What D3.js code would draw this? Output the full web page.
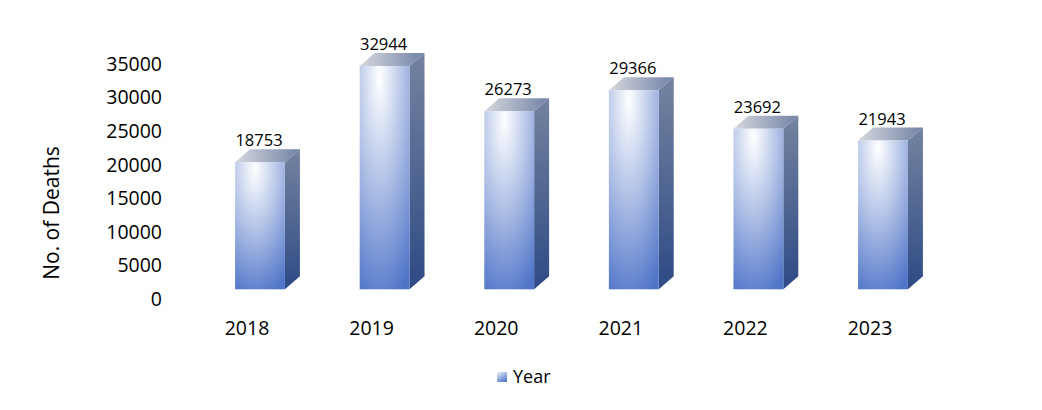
<!DOCTYPE html>
<html>
<head>
<meta charset="utf-8">
<script src="https://cdn.jsdelivr.net/npm/d3@7"></script>
<style>
  body { margin: 0; background: #fff; }
  text { font-family: "Open Sans", Lato, sans-serif; fill: #000; }
</style>
</head>
<body>
<div id="chart"></div>
<script>
var years = ["2018", "2019", "2020", "2021", "2022", "2023"];
var deaths = [18753, 32944, 26273, 29366, 23692, 21943];
var yTicks = [0, 5000, 10000, 15000, 20000, 25000, 30000, 35000];
var seriesName = "Year";
var yTitle = "No. of Deaths";

var width = 1042,
  height = 410;
var depthX = 15,
  depthY = 13;

var svg = d3
  .select("#chart")
  .append("svg")
  .attr("width", width)
  .attr("height", height);

var defs = svg.append("defs");

var frontGrad = defs
  .append("radialGradient")
  .attr("id", "front")
  .attr("cx", 0.4)
  .attr("cy", 0.05)
  .attr("fx", 0.4)
  .attr("fy", 0.05)
  .attr("r", 1.05);
frontGrad.append("stop").attr("offset", "0%").attr("stop-color", "#ffffff");
frontGrad.append("stop").attr("offset", "45%").attr("stop-color", "#b3c3e7");
frontGrad.append("stop").attr("offset", "100%").attr("stop-color", "#4f74c8");

var sideGrad = defs
  .append("linearGradient")
  .attr("id", "side")
  .attr("x1", 0)
  .attr("y1", 0)
  .attr("x2", 0)
  .attr("y2", 1);
sideGrad.append("stop").attr("offset", "0%").attr("stop-color", "#74839f");
sideGrad.append("stop").attr("offset", "100%").attr("stop-color", "#2e4a85");

var topGrad = defs
  .append("linearGradient")
  .attr("id", "topface")
  .attr("x1", 0)
  .attr("y1", 0)
  .attr("x2", 1)
  .attr("y2", 0);
topGrad.append("stop").attr("offset", "0%").attr("stop-color", "#d6d8dd");
topGrad.append("stop").attr("offset", "100%").attr("stop-color", "#7182a6");

var legendGrad = defs
  .append("linearGradient")
  .attr("id", "legend")
  .attr("x1", 0)
  .attr("y1", 0)
  .attr("x2", 0.6)
  .attr("y2", 1);
legendGrad.append("stop").attr("offset", "0%").attr("stop-color", "#eef2fb");
legendGrad.append("stop").attr("offset", "100%").attr("stop-color", "#5c7fcc");

var x = d3
  .scaleBand()
  .domain(years)
  .range([197.7, 945.3])
  .paddingInner(0.6)
  .paddingOuter(0.3);

// bar fronts sit on the front plane; tick labels on the back wall sit lower
var y = d3.scaleLinear().domain([0, 35000]).range([289.3, 52]);
var yAxisScale = d3.scaleLinear().domain([0, 35000]).range([298.5, 63.5]);

var axis = svg
  .append("g")
  .attr("transform", "translate(162,0)")
  .call(
    d3
      .axisLeft(yAxisScale)
      .tickValues(yTicks)
      .tickFormat(d3.format("d"))
      .tickSize(0)
      .tickPadding(0)
  );
axis.select(".domain").remove();
axis
  .selectAll("text")
  .style("font-size", "19.5px")
  .attr("dy", "0.35em");

svg
  .append("text")
  .attr("transform", "translate(52,213) rotate(-90)")
  .attr("text-anchor", "middle")
  .attr("dy", "0.35em")
  .style("font-size", "21px")
  .text(yTitle);

var bars = svg
  .selectAll("g.bar")
  .data(years.map((d, i) => ({ year: d, value: deaths[i] })))
  .enter()
  .append("g")
  .attr("class", "bar");

bars
  .append("path")
  .attr("fill", "url(#side)")
  .attr("d", (d) => {
    var x1 = x(d.year) + x.bandwidth(),
      y0 = y(0),
      y1 = y(d.value);
    return `M${x1},${y0}L${x1},${y1}L${x1 + depthX},${y1 - depthY}L${x1 + depthX},${y0 - depthY}Z`;
  });

bars
  .append("path")
  .attr("fill", "url(#topface)")
  .attr("d", (d) => {
    var x0 = x(d.year),
      x1 = x0 + x.bandwidth(),
      y1 = y(d.value);
    return `M${x0},${y1}L${x0 + depthX},${y1 - depthY}L${x1 + depthX},${y1 - depthY}L${x1},${y1}Z`;
  });

bars
  .append("rect")
  .attr("fill", "url(#front)")
  .attr("x", (d) => x(d.year))
  .attr("y", (d) => y(d.value))
  .attr("width", x.bandwidth())
  .attr("height", (d) => y(0) - y(d.value));

bars
  .append("text")
  .attr("x", (d) => x(d.year) + x.bandwidth() / 2 - 1)
  .attr("y", (d) => y(d.value) - depthY - 3)
  .attr("text-anchor", "middle")
  .style("font-size", "16.5px")
  .text((d) => d.value);

svg
  .append("g")
  .selectAll("text")
  .data(years)
  .enter()
  .append("text")
  .attr("x", (d) => x(d) + x.bandwidth() / 2 - 13)
  .attr("y", 328)
  .attr("dy", "0.35em")
  .attr("text-anchor", "middle")
  .style("font-size", "19.5px")
  .text((d) => d);

var legend = svg.append("g").attr("transform", "translate(497,372)");
legend
  .append("rect")
  .attr("width", 10)
  .attr("height", 10)
  .attr("fill", "url(#legend)");
legend
  .append("text")
  .attr("x", 16)
  .attr("y", 5)
  .attr("dy", "0.35em")
  .style("font-size", "18px")
  .text(seriesName);
</script>
</body>
</html>
